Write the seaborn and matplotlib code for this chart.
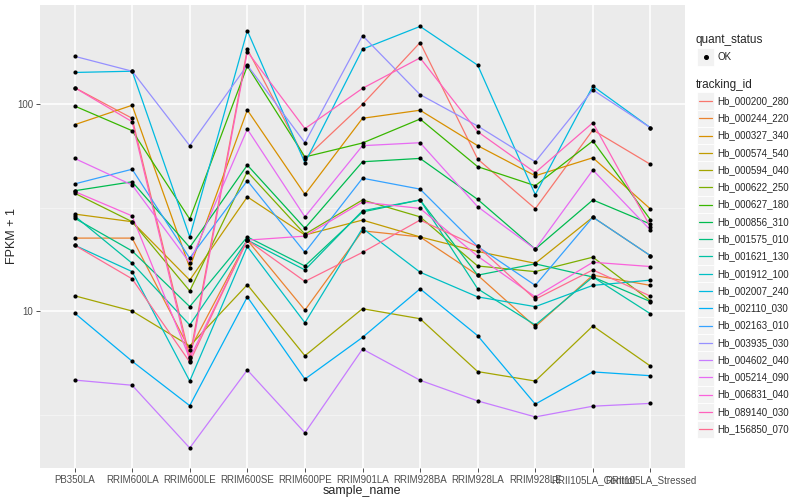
import numpy as np
import pandas as pd
import matplotlib
matplotlib.use("Agg")
import matplotlib.pyplot as plt
from matplotlib.lines import Line2D
from matplotlib.patches import Rectangle
import seaborn as sns

samples = ["PB350LA", "RRIM600LA", "RRIM600LE", "RRIM600SE", "RRIM600PE",
           "RRIM901LA", "RRIM928BA", "RRIM928LA", "RRIM928LE",
           "RRII105LA_Control", "RRII105LA_Stressed"]

tracking_ids = ["Hb_000200_280", "Hb_000244_220", "Hb_000327_340", "Hb_000574_540",
                "Hb_000594_040", "Hb_000622_250", "Hb_000627_180", "Hb_000856_310",
                "Hb_001575_010", "Hb_001621_130", "Hb_001912_100", "Hb_002007_240",
                "Hb_002110_030", "Hb_002163_010", "Hb_003935_030", "Hb_004602_040",
                "Hb_005214_090", "Hb_006831_040", "Hb_089140_030", "Hb_156850_070"]

# ggplot default hue palette, 20 levels
colors = ["#F8766D", "#EA8331", "#D89000", "#C09B00", "#A3A500", "#7CAE00",
          "#39B600", "#00BB4E", "#00BF7D", "#00C1A3", "#00BFC4", "#00BAE0",
          "#00B0F6", "#35A2FF", "#9590FF", "#C77CFF", "#E76BF3", "#FA62DB",
          "#FF62BC", "#FF6C91"]

# FPKM + 1, one list per gene, in sample order
hb_000200_280 = [120, 85.3, 6.0, 184, 54.5, 99.7, 198, 54.2, 31.2, 74.9, 51.1]
hb_000244_220 = [22.5, 22.5, 6.5, 22.0, 10.1, 24.4, 22.8, 14.9, 8.4, 14.9, 13.3]
hb_000327_340 = [79.4, 98.6, 16.2, 93.5, 36.6, 85.3, 93.3, 62.9, 45.0, 55.0, 31.1]
hb_000574_540 = [29.4, 27.0, 14.1, 35.6, 23.3, 27.5, 22.8, 19.4, 17.0, 28.4, 18.5]
hb_000594_040 = [11.85, 10.0, 6.78, 13.4, 6.08, 10.26, 9.18, 5.1, 4.59, 8.47, 5.42]
hb_000622_250 = [37.1, 27.0, 12.5, 47.1, 23.5, 34.4, 28.5, 16.5, 15.5, 18.2, 11.2]
hb_000627_180 = [97.8, 74.3, 27.8, 152.6, 55.5, 64.8, 84.6, 49.8, 40.3, 66.3, 27.6]
hb_000856_310 = [38.1, 42.1, 20.3, 50.7, 25.1, 52.6, 54.6, 34.6, 19.9, 34.4, 26.3]
hb_001575_010 = [28.1, 19.5, 10.5, 22.8, 16.5, 30.1, 34.4, 14.9, 16.9, 14.6, 11.1]
hb_001621_130 = [28.8, 17.0, 8.56, 22.0, 15.8, 30.5, 34.4, 12.8, 8.56, 14.6, 9.7]
hb_001912_100 = [20.8, 15.5, 4.59, 20.5, 8.78, 25.1, 15.4, 11.7, 10.5, 13.3, 14.1]
hb_002007_240 = [142, 144, 22.8, 226, 52.0, 184, 237, 154, 36.5, 122, 76.8]
hb_002110_030 = [9.78, 5.72, 3.49, 11.7, 4.69, 7.46, 12.8, 7.6, 3.55, 5.08, 4.87]
hb_002163_010 = [41.1, 48.4, 18.0, 42.6, 19.2, 43.8, 38.8, 20.5, 13.3, 28.4, 18.5]
hb_003935_030 = [170, 144, 62.9, 154, 65, 214, 111, 78.3, 52.6, 117, 76.8]
hb_004602_040 = [4.64, 4.38, 2.18, 5.19, 2.58, 6.55, 4.63, 3.68, 3.08, 3.47, 3.58]
hb_005214_090 = [54.6, 40.6, 17.1, 75.6, 28.5, 62.9, 65, 31.9, 19.9, 48, 24.6]
hb_006831_040 = [37.8, 28.8, 5.9, 22.0, 23.0, 33.6, 31.3, 18.4, 11.7, 17.2, 16.4]
hb_089140_030 = [120, 82.1, 5.74, 179, 76, 119, 167, 73.5, 46.6, 81.2, 25.5]
hb_156850_070 = [20.8, 14.3, 5.67, 22.0, 13.9, 19.2, 27.5, 20.5, 11.4, 15.8, 11.8]

series = [hb_000200_280, hb_000244_220, hb_000327_340, hb_000574_540, hb_000594_040,
          hb_000622_250, hb_000627_180, hb_000856_310, hb_001575_010, hb_001621_130,
          hb_001912_100, hb_002007_240, hb_002110_030, hb_002163_010, hb_003935_030,
          hb_004602_040, hb_005214_090, hb_006831_040, hb_089140_030, hb_156850_070]

rows = []
for tid, vals in zip(tracking_ids, series):
    for i, (s, v) in enumerate(zip(samples, vals)):
        rows.append({"tracking_id": tid, "sample_name": s, "pos": i, "fpkm": v})
df = pd.DataFrame(rows)

sns.set_style("white")
plt.rcParams["font.family"] = ["Liberation Sans", "DejaVu Sans"]

fig = plt.figure(figsize=(8, 5), dpi=100)
ax = fig.add_axes([40 / 800, 1 - 468 / 500, 645 / 800, 463 / 500])
ax.set_facecolor("#EBEBEB")

ax.set_yscale("log")
ax.set_ylim(1.745, 300.7)
ax.set_xlim(-0.6, len(samples) - 0.4)

# grid
for v in [10, 100]:
    ax.axhline(v, color="white", lw=1.1, zorder=0)
for v in [10 ** 0.5, 10 ** 1.5, 10 ** 2.5]:
    ax.axhline(v, color="#F5F5F5", lw=0.6, zorder=0)
for i in range(len(samples)):
    ax.axvline(i, color="white", lw=1.1, zorder=0)

sns.lineplot(data=df, x="pos", y="fpkm", hue="tracking_id", palette=colors,
             hue_order=tracking_ids, units="tracking_id", estimator=None,
             sort=False, legend=False, linewidth=0.9, ax=ax, zorder=2)
sns.scatterplot(data=df, x="pos", y="fpkm", color="black", s=9, linewidth=0,
                legend=False, ax=ax, zorder=3)

ax.set_yticks([10, 100])
ax.set_yticklabels(["10", "100"])
ax.yaxis.set_minor_locator(matplotlib.ticker.NullLocator())
ax.set_xticks(range(len(samples)))
ax.set_xticklabels(samples)
ax.tick_params(axis="both", labelsize=7, labelcolor="#4D4D4D", color="#333333",
               length=3, width=0.6, pad=2, direction="out")
ax.tick_params(axis="both", which="both", left=True, bottom=True)
for sp in ax.spines.values():
    sp.set_visible(False)
ax.set_xlabel("")
ax.set_ylabel("")


def px(x, y):
    return x / 800, 1 - y / 500


# axis titles placed like the reference
fig.text(*px(362, 491), "sample_name", fontsize=9, ha="center", va="center")
fig.text(*px(12, 236), "FPKM + 1", fontsize=9, ha="center", va="center", rotation=90)


def key_box(y):
    x0, y0 = px(697, y + 8.6)
    fig.patches.append(Rectangle((x0, y0), 17 / 800, 17.2 / 500, transform=fig.transFigure,
                                 facecolor="#F2F2F2", edgecolor="white", lw=0.6))


fig.text(*px(696, 40), "quant_status", fontsize=8.5, va="center", ha="left")
key_box(57)
fig.add_artist(Line2D([705.5 / 800], [1 - 57 / 500], marker="o", color="black",
                      markersize=2.6, ls="none", transform=fig.transFigure))
fig.text(*px(717, 57), "OK", fontsize=7, va="center", ha="left")

fig.text(*px(696, 85), "tracking_id", fontsize=8.5, va="center", ha="left")
for i, (tid, c) in enumerate(zip(tracking_ids, colors)):
    y = 101 + i * 17.27
    key_box(y)
    fig.add_artist(Line2D([699 / 800, 712 / 800], [1 - y / 500, 1 - y / 500],
                          color=c, lw=0.9, transform=fig.transFigure))
    fig.text(*px(717, y), tid, fontsize=7, va="center", ha="left")

fig.savefig("out.png", dpi=100, facecolor="white")
